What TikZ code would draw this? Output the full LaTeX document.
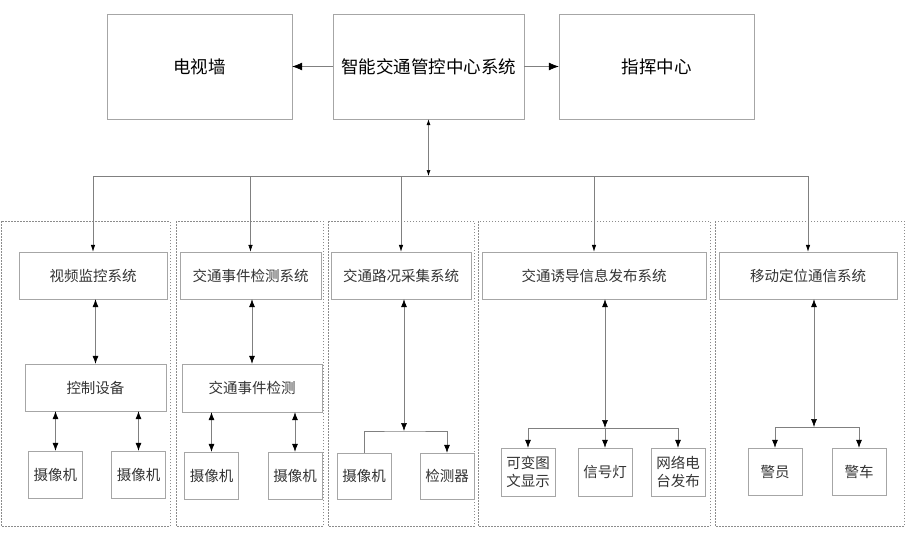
\documentclass[tikz,border=0pt]{standalone}
\usepackage{fontspec}
\setmainfont{Noto Sans CJK SC}
\usetikzlibrary{arrows.meta}

\begin{document}
\begin{tikzpicture}[x=1pt,y=-1pt,>={Latex[length=8pt,width=6pt,color=black]},
      box/.style={draw=black!35,inner sep=0pt,align=center,text=black!80,
        font=\fontsize{14.5}{18}\selectfont},
      big/.style={box,minimum height=105pt,text=black,font=\fontsize{17.5}{20}\selectfont},
      sys/.style={box,minimum height=47pt},
      dev/.style={box,minimum width=54pt,minimum height=47pt},
      panel/.style={draw=black!45,dash pattern=on 1.5pt off 1.5pt},
      link/.style={draw=black!50,line width=0.6pt}]
      \useasboundingbox (0,0) rectangle (906,541);

      \node[big,minimum width=185pt] (tv)  at (199.5,66.5) {电视墙};
      \node[big,minimum width=191pt] (ctr) at (428.5,66.5) {智能交通管控中心系统};
      \node[big,minimum width=195pt] (cmd) at (656.5,66.5) {指挥中心};

      \draw[panel] (1,221) rectangle (170,526);
      \draw[panel] (176,221) rectangle (323,526);
      \draw[panel] (328,221) rectangle (474,526);
      \draw[panel] (478,221) rectangle (710,526);
      \draw[panel] (715,221) rectangle (904,526);

      \node[sys,minimum width=148pt] (sp) at (93,275.5)  {视频监控系统};
      \node[sys,minimum width=141pt] (se) at (250.5,275.5) {交通事件检测系统};
      \node[sys,minimum width=140pt] (sr) at (401,275.5) {交通路况采集系统};
      \node[sys,minimum width=224pt] (sg) at (594,275.5) {交通诱导信息发布系统};
      \node[sys,minimum width=178pt] (sm) at (808,275.5) {移动定位通信系统};

      \node[sys,minimum width=141pt] (ctl) at (95.5,387.5) {控制设备};
      \node[sys,minimum width=140pt,minimum height=48pt] (det) at (252,388) {交通事件检测};

      \node[dev] (c1) at (55.5,474.5) {摄像机};
      \node[dev] (c2) at (138.5,474.5) {摄像机};
      \node[dev] (c3) at (211.5,475.5) {摄像机};
      \node[dev] (c4) at (295,475.5) {摄像机};
      \node[dev,minimum height=46pt] (c5) at (364,476) {摄像机};
      \node[dev,minimum height=46pt] (dt) at (447,476) {检测器};
      \node[dev,minimum height=48pt] (g1) at (528,472) {可变图\\文显示};
      \node[dev,minimum height=48pt] (g2) at (605,472) {信号灯};
      \node[dev,minimum height=48pt] (g3) at (678,472) {网络电\\台发布};
      \node[dev] (m1) at (775,471.5) {警员};
      \node[dev] (m2) at (859,471.5) {警车};

      \coordinate (bus) at (428.5,176);
      \coordinate (j3) at (404,431);
      \coordinate (j4) at (605,428);
      \coordinate (j5) at (814,427);

      \path[link,>={Latex[length=10pt,width=8pt,color=black]},->]
      (ctr) edge (tv)
      (ctr) edge (cmd);
      \draw[link,>={Latex[length=6pt,width=4pt,color=black]},<->] (ctr) -- (bus);
      \draw[link] (sp.north |- bus) -- (sm.north |- bus);
      \foreach \s in {sp,se,sr,sg,sm}
        \draw[link,>={Latex[length=7pt,width=4.5pt,color=black]},->] (\s.north |- bus) -- (\s);

      \draw[link,<->] (ctl.north) -- (ctl.north |- sp.south);
      \draw[link,<->] (det.north) -- (det.north |- se.south);
      \foreach \c/\p in {c1/ctl,c2/ctl,c3/det,c4/det}
        \draw[link,<->] (\c) -- (\c |- \p.south);

      \draw[link,<->] (j3 |- sr.south) -- (j3);
      \draw[link,->] (c5.north) |- (j3) -| (dt.north);

      \draw[link,<->] (j4 |- sg.south) -- (j4);
      \draw[link] (g1.north |- j4) -- (g3.north |- j4);
      \foreach \g in {g1,g2,g3}
        \draw[link,->] (\g.north |- j4) -- (\g);

      \draw[link,<->] (j5 |- sm.south) -- (j5);
      \draw[link] (m1.north |- j5) -- (m2.north |- j5);
      \foreach \m in {m1,m2}
        \draw[link,->] (\m.north |- j5) -- (\m);
\end{tikzpicture}
\end{document}
